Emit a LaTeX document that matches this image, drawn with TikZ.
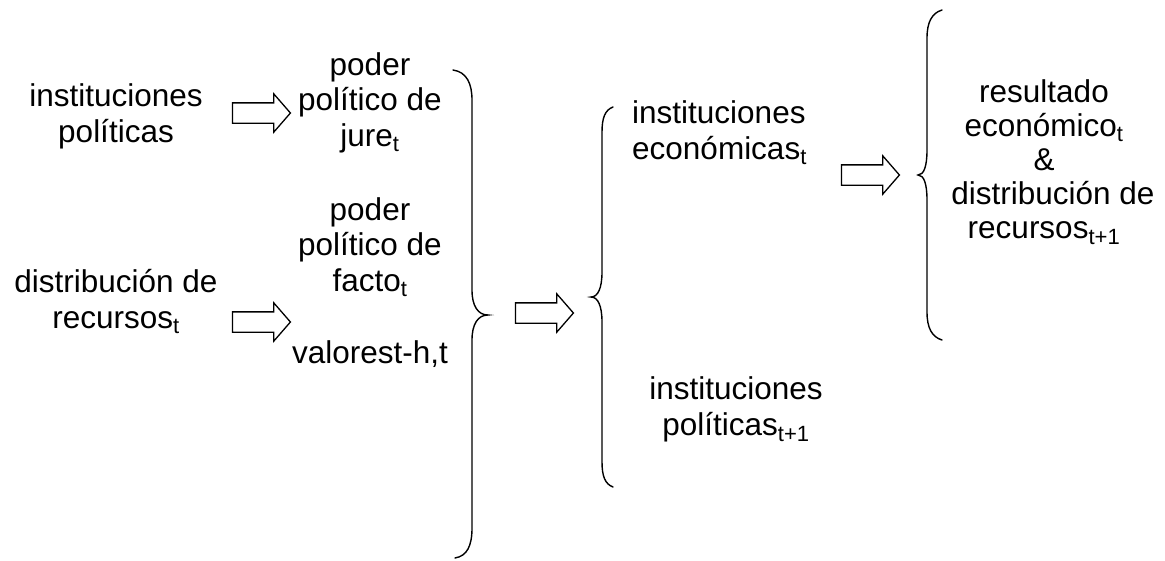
\documentclass[tikz,border=0pt]{standalone}
\usepackage{fontspec}
\setmainfont{Liberation Sans}
\usetikzlibrary{shapes.arrows}
\begin{document}
\begin{tikzpicture}[x=1pt,y=-1pt,
  txt/.style={font=\fontsize{31.5}{35.5}\selectfont, inner sep=0pt, align=center, anchor=base},
  txtl/.style={txt, align=left, anchor=base west},
  blk/.style={single arrow, draw, line width=1.3pt, minimum height=58pt, inner xsep=0pt, inner ysep=9.5pt, single arrow head extend=9pt, single arrow tip angle=98},
  brc/.style={line width=1.4pt, line cap=round}]
\useasboundingbox (0,0) rectangle (1165,560);
% left texts (anchor = baseline of last line)
\node[txt] (ip0) at (116,142) {instituciones\\políticas};
\node[txt] (dr0) at (116,328) {distribución de\\recursos\textsubscript{t}};
% arrows
\node[blk] (a1) at (257,113) {};
\node[blk] (a2) at (257,322) {};
% middle column
\node[txt] (pj) at (370,146) {poder\\político de\\jure\textsubscript{t}};
\node[txt] (pf) at (370,291) {poder\\político de\\facto\textsubscript{t}};
\node[txt] (va) at (370,363) {valorest-h,t};
% brace 1
\draw[brc] (453,70) .. controls (467,72) and (472,84) .. (472,100) -- (472,290)
  .. controls (472,306) and (478,315) .. (488,315)
  .. controls (478,315) and (472,324) .. (472,340) -- (472,528)
  .. controls (472,546) and (467,556) .. (455,558);
\node[blk] (a3) at (540,313) {};
% brace 2
\draw[brc] (613,107) .. controls (605,110) and (602,118) .. (602,132) -- (602,272)
  .. controls (602,288) and (598,297) .. (591,297)
  .. controls (598,297) and (602,306) .. (602,322) -- (602,462)
  .. controls (602,476) and (605,484) .. (613,487);
\node[txtl] (ie) at (632,159) {instituciones\\económicas\textsubscript{t}};
\node[txt] (ipt) at (736,435) {instituciones\\políticas\textsubscript{t+1}};
\node[blk] (a4) at (866,175) {};
% brace 3
\draw[brc] (942,10) .. controls (932,13) and (927,22) .. (927,38) -- (927,150)
  .. controls (927,166) and (924,175) .. (918,175)
  .. controls (924,175) and (927,184) .. (927,200) -- (927,312)
  .. controls (927,328) and (932,337) .. (942,340);
\node[txt, font=\fontsize{31.5}{34}\selectfont] (res) at (1044,238) {resultado\\económico\textsubscript{t}\\\&\hspace*{14pt}\\\hspace*{18pt}distribución de\\recursos\textsubscript{t+1}};
\end{tikzpicture}
\end{document}
